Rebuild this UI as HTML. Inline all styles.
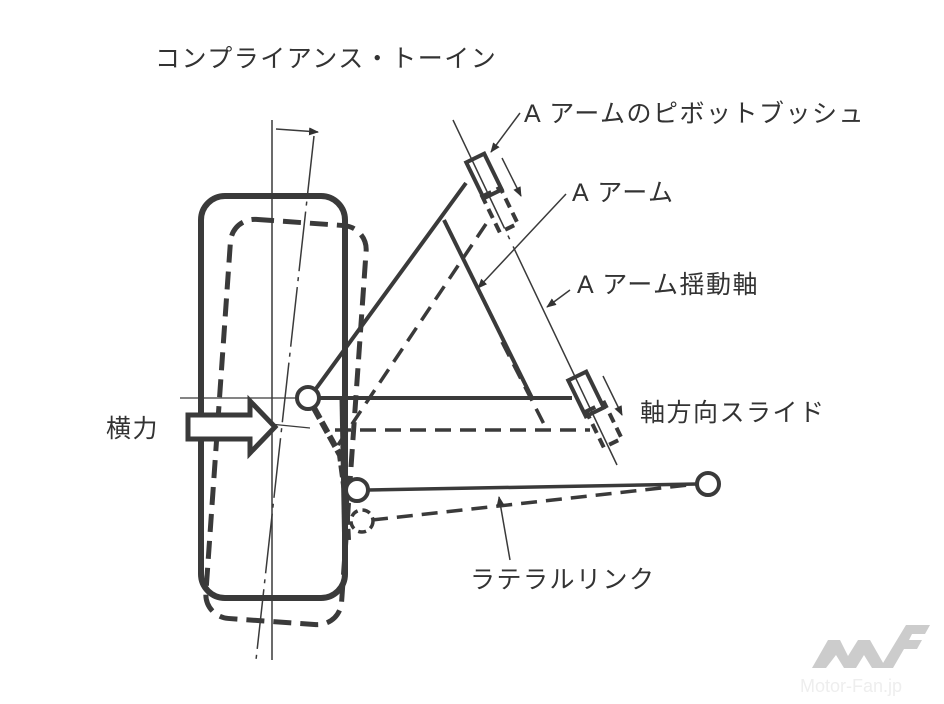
<!DOCTYPE html>
<html><head><meta charset="utf-8"><style>
html,body{margin:0;padding:0;background:#fff;}
svg{display:block;}
text{font-family:"Liberation Sans","Noto Sans CJK JP",sans-serif;fill:#333;letter-spacing:1.5px;}
</style></head><body>
<svg width="944" height="704" viewBox="0 0 944 704" xmlns="http://www.w3.org/2000/svg">
<defs>
<marker id="ah" markerWidth="10" markerHeight="8" refX="9" refY="4" orient="auto" markerUnits="userSpaceOnUse"><path d="M0,0 L10,4 L0,8 Z" fill="#333"/></marker>
</defs>
<g stroke="#3a3a3a" fill="none">
<rect x="201" y="196" width="144" height="402" rx="24" stroke-width="6"/>
<rect x="218" y="222" width="136" height="400" rx="24" stroke-width="5" stroke-dasharray="18,9" transform="rotate(4 286 422)"/>
<line x1="272" y1="120" x2="272" y2="660" stroke-width="1.5"/>
<line x1="314" y1="136" x2="256" y2="660" stroke-width="1.5" stroke-dasharray="60,6,4,6"/>
<line x1="276" y1="129" x2="318" y2="132" stroke-width="1.5" marker-end="url(#ah)"/>
<line x1="180" y1="398" x2="300" y2="398" stroke-width="1.2"/>
<line x1="270" y1="424" x2="310" y2="428" stroke-width="1.2"/>
<line x1="315" y1="390" x2="466" y2="183" stroke-width="4"/>
<line x1="444" y1="220" x2="532" y2="398" stroke-width="4"/>
<line x1="319" y1="398" x2="572" y2="398" stroke-width="4"/>
<line x1="453" y1="120" x2="617" y2="465" stroke-width="1.5" stroke-dasharray="120,8,4,8,400"/>
<rect x="-10" y="-20" width="20" height="40" stroke-width="4" transform="translate(484 176) rotate(-26)"/>
<rect x="-10" y="-20" width="20" height="40" stroke-width="4" transform="translate(586 394) rotate(-26)"/>
<rect x="-10" y="-20" width="20" height="40" stroke-width="4" stroke-dasharray="10,6" transform="translate(500 210) rotate(-26)"/>
<rect x="-10" y="-20" width="20" height="40" stroke-width="4" stroke-dasharray="10,6" transform="translate(604 425) rotate(-26)"/>
<line x1="338" y1="445" x2="492" y2="215" stroke-width="3.5" stroke-dasharray="16,9"/>
<line x1="502" y1="342" x2="547" y2="430" stroke-width="3.5" stroke-dasharray="16,9"/>
<line x1="335" y1="430" x2="590" y2="430" stroke-width="3.5" stroke-dasharray="16,9"/>
<path d="M314 408 L340 455 L346 500 L348 540" stroke-width="6" stroke-dasharray="12,4"/>
<line x1="342" y1="398" x2="345" y2="560" stroke-width="5"/>
<line x1="368" y1="490" x2="697" y2="484" stroke-width="3.5"/>
<line x1="372" y1="520" x2="697" y2="484" stroke-width="3.5" stroke-dasharray="16,9"/>
<circle cx="362" cy="521" r="11" stroke-width="3.5" stroke-dasharray="8,5"/>
<line x1="520" y1="113" x2="491" y2="152" stroke-width="1.5" marker-end="url(#ah)"/>
<line x1="566" y1="194" x2="478" y2="288" stroke-width="1.5" marker-end="url(#ah)"/>
<line x1="570" y1="290" x2="547" y2="307" stroke-width="1.5" marker-end="url(#ah)"/>
<line x1="510" y1="560" x2="499" y2="497" stroke-width="1.5" marker-end="url(#ah)"/>
<line x1="502" y1="158" x2="521" y2="196" stroke-width="1.5" marker-end="url(#ah)"/>
<line x1="603" y1="376" x2="622" y2="415" stroke-width="1.5" marker-end="url(#ah)"/>
</g>
<g stroke="#3a3a3a" stroke-width="4" fill="#fff">
<circle cx="308" cy="398" r="11"/>
<circle cx="357" cy="490" r="11"/>
<circle cx="708" cy="484" r="11"/>
<path d="M188 415 L250 415 L250 401 L275 427 L250 453 L250 439 L188 439 Z" stroke-width="5"/>
</g>
<text x="155" y="67" font-size="25">コンプライアンス・トーイン</text>
<text x="524" y="122" font-size="25">A アームのピボットブッシュ</text>
<text x="572" y="201" font-size="25">A アーム</text>
<text x="577" y="293" font-size="25">A アーム揺動軸</text>
<text x="640" y="421" font-size="25">軸方向スライド</text>
<text x="106" y="437" font-size="25">横力</text>
<text x="470" y="588" font-size="25">ラテラルリンク</text>
<g fill="#ccc">
<path d="M812 668 L828 640 L840 640 L848 656 L858 640 L870 640 L886 668 L872 668 L864 655 L856 668 L844 668 L836 655 L826 668 Z"/>
<path d="M880 668 L906 625 L930 625 L925 634 L912 634 L909 640 L922 640 L917 649 L904 649 L893 668 Z"/>
</g>
<text x="800" y="692" font-size="18" style="fill:#eee;letter-spacing:0">Motor-Fan.jp</text>
</svg>
</body></html>
